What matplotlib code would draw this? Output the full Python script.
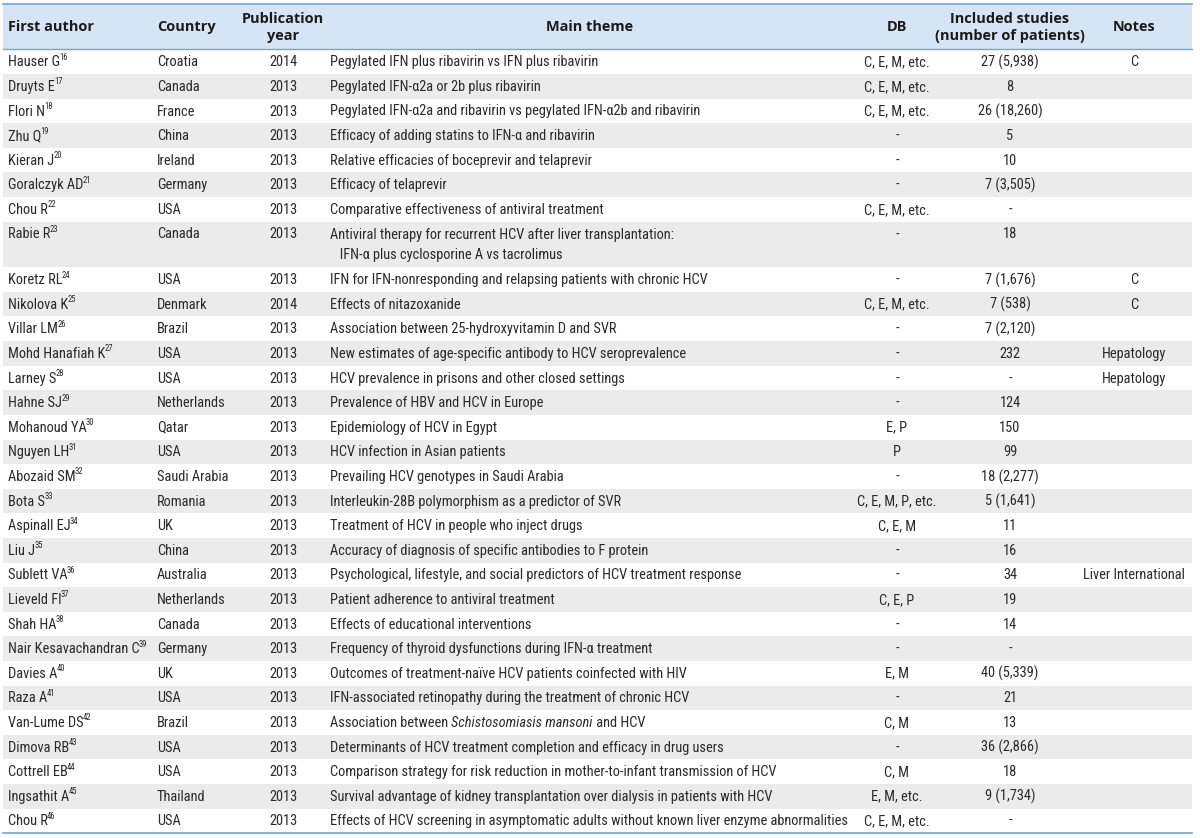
import matplotlib
matplotlib.use("Agg")
import matplotlib.pyplot as plt
from matplotlib import font_manager as fm

authors = ["Hauser G", "Druyts E", "Flori N", "Zhu Q", "Kieran J", "Goralczyk AD", "Chou R",
           "Rabie R", "Koretz RL", "Nikolova K", "Villar LM", "Mohd Hanafiah K", "Larney S",
           "Hahne SJ", "Mohanoud YA", "Nguyen LH", "Abozaid SM", "Bota S", "Aspinall EJ",
           "Liu J", "Sublett VA", "Lieveld FI", "Shah HA", "Nair Kesavachandran C",
           "Davies A", "Raza A", "Van-Lume DS", "Dimova RB", "Cottrell EB", "Ingsathit A", "Chou R"]
refs = [str(r) for r in range(16, 47)]
countries = ["Croatia", "Canada", "France", "China", "Ireland", "Germany", "USA", "Canada", "USA",
             "Denmark", "Brazil", "USA", "USA", "Netherlands", "Qatar", "USA", "Saudi Arabia",
             "Romania", "UK", "China", "Australia", "Netherlands", "Canada", "Germany", "UK",
             "USA", "Brazil", "USA", "USA", "Thailand", "USA"]
years = ["2014", "2013", "2013", "2013", "2013", "2013", "2013", "2013", "2013", "2014", "2013",
         "2013", "2013", "2013", "2013", "2013", "2013", "2013", "2013", "2013", "2013", "2013",
         "2013", "2013", "2013", "2013", "2013", "2013", "2013", "2013", "2013"]
themes = [
    "Pegylated IFN plus ribavirin vs IFN plus ribavirin",
    "Pegylated IFN-α2a or 2b plus ribavirin",
    "Pegylated IFN-α2a and ribavirin vs pegylated IFN-α2b and ribavirin",
    "Efficacy of adding statins to IFN-α and ribavirin",
    "Relative efficacies of boceprevir and telaprevir",
    "Efficacy of telaprevir",
    "Comparative effectiveness of antiviral treatment",
    "Antiviral therapy for recurrent HCV after liver transplantation:\n   IFN-α plus cyclosporine A vs tacrolimus",
    "IFN for IFN-nonresponding and relapsing patients with chronic HCV",
    "Effects of nitazoxanide",
    "Association between 25-hydroxyvitamin D and SVR",
    "New estimates of age-specific antibody to HCV seroprevalence",
    "HCV prevalence in prisons and other closed settings",
    "Prevalence of HBV and HCV in Europe",
    "Epidemiology of HCV in Egypt",
    "HCV infection in Asian patients",
    "Prevailing HCV genotypes in Saudi Arabia",
    "Interleukin-28B polymorphism as a predictor of SVR",
    "Treatment of HCV in people who inject drugs",
    "Accuracy of diagnosis of specific antibodies to F protein",
    "Psychological, lifestyle, and social predictors of HCV treatment response",
    "Patient adherence to antiviral treatment",
    "Effects of educational interventions",
    "Frequency of thyroid dysfunctions during IFN-α treatment",
    "Outcomes of treatment-naïve HCV patients coinfected with HIV",
    "IFN-associated retinopathy during the treatment of chronic HCV",
    "Association between *Schistosomiasis mansoni* and HCV",
    "Determinants of HCV treatment completion and efficacy in drug users",
    "Comparison strategy for risk reduction in mother-to-infant transmission of HCV",
    "Survival advantage of kidney transplantation over dialysis in patients with HCV",
    "Effects of HCV screening in asymptomatic adults without known liver enzyme abnormalities",
]
dbs = ["C, E, M, etc.", "C, E, M, etc.", "C, E, M, etc.", "-", "-", "-", "C, E, M, etc.", "-", "-",
       "C, E, M, etc.", "-", "-", "-", "-", "E, P", "P", "-", "C, E, M, P, etc.", "C, E, M", "-",
       "-", "C, E, P", "-", "-", "E, M", "-", "C, M", "-", "C, M", "E, M, etc.", "C, E, M, etc."]
included = ["27 (5,938)", "8", "26 (18,260)", "5", "10", "7 (3,505)", "-", "18", "7 (1,676)",
            "7 (538)", "7 (2,120)", "232", "-", "124", "150", "99", "18 (2,277)", "5 (1,641)",
            "11", "16", "34", "19", "14", "-", "40 (5,339)", "21", "13", "36 (2,866)", "18",
            "9 (1,734)", "-"]
notes = ["C", "", "", "", "", "", "", "", "C", "C", "", "Hepatology", "Hepatology", "", "", "",
         "", "", "", "", "Liver International", "", "", "", "", "", "", "", "", "", ""]
headers = ["First author", "Country", "Publication\nyear", "Main theme", "DB",
           "Included studies\n(number of patients)", "Notes"]

# ---- font choice: prefer a condensed sans face for the body ----
entries = fm.fontManager.ttflist
avail = {f.name for f in entries}
FAMILY, STRETCH = None, "normal"
for cand in ["Roboto Condensed", "Liberation Sans Narrow", "Open Sans Condensed",
             "Noto Sans Condensed", "DejaVu Sans Condensed"]:
    if cand in avail:
        FAMILY = cand
        break
if FAMILY is None:
    for fam in ["Noto Sans", "Roboto", "Open Sans", "DejaVu Sans"]:
        hits = [f for f in entries if f.name == fam and str(f.stretch) in
                ("condensed", "semi-condensed", "extra-condensed")]
        if hits:
            FAMILY, STRETCH = fam, str(hits[0].stretch)
            break
if FAMILY is None:
    FAMILY = "Liberation Sans" if "Liberation Sans" in avail else "DejaVu Sans"
FAM = [FAMILY, "DejaVu Sans"]
HFAMILY = next((c for c in ["Open Sans", "Noto Sans", "Lato", "DejaVu Sans"] if c in avail), "DejaVu Sans")
HFAM = [HFAMILY, "DejaVu Sans"]

W, H = 1200, 838
fig = plt.figure(figsize=(W / 100, H / 100), dpi=100)
ax = fig.add_axes([0, 0, 1, 1])
ax.set_xlim(0, W)
ax.set_ylim(H, 0)
ax.axis("off")
fig.canvas.draw()
renderer = fig.canvas.get_renderer()


def width_of(t):
    return t.get_window_extent(renderer=renderer).width


# fit body size so the longest theme spans like the reference (~513 px)
probe = ax.text(0, 0, themes[-1], fontsize=10, family=FAM, stretch=STRETCH)
FS = min(11.2, 10 * 515 / width_of(probe))
probe.remove()
# fit header size so "(number of patients)" spans ~152 px
probe = ax.text(0, 0, "(number of patients)", fontsize=10, family=HFAM, weight="bold")
HFS = min(11.5, 10 * 150 / width_of(probe))
probe.remove()
SUP = FS * 0.6

TXT = "#2a2a2a"
BLUE_FILL = "#d5e5f5"
LINE = "#7aa3cf"
GREY = "#ebebeb"

x0, x1 = 3, 1192
top, hdr_bot = 4, 49.5
rh = 24.6
extra = 21


def T(x, y, s, **kw):
    kw.setdefault("ha", "left")
    return ax.text(x, y, s, fontsize=kw.pop("fs", FS), family=kw.pop("family", FAM),
                   stretch=kw.pop("stretch", STRETCH),
                   color=kw.pop("color", TXT), va="center", **kw)


def draw_rich(x, y, s, sup=None):
    parts = s.split("*")
    cx = x
    for i, p in enumerate(parts):
        if not p:
            continue
        t = T(cx, y, p, style="italic" if i % 2 == 1 else "normal")
        cx += width_of(t)
    if sup:
        T(cx - 0.8, y - 5.0, sup, fs=SUP)


# header
ax.add_patch(plt.Rectangle((x0, top), x1 - x0, hdr_bot - top, color=BLUE_FILL, lw=0))
ax.plot([x0, x1], [top, top], color=LINE, lw=1.2)
ax.plot([x0, x1], [hdr_bot, hdr_bot], color=LINE, lw=1.0)
hy = (top + hdr_bot) / 2 + 0.5
hdr_pos = [(8, "left"), (157, "left"), (283, "center"), (590, "center"), (897, "center"),
           (1010, "center"), (1134, "center")]
for (hx, ha), h in zip(hdr_pos, headers):
    T(hx, hy, h, ha=ha, fs=HFS, family=HFAM, stretch="normal", weight="bold",
      color="#1a1a1a", linespacing=1.25, multialignment="center")

# rows
y = hdr_bot
for i in range(len(authors)):
    multi = "\n" in themes[i]
    h = rh + (extra if multi else 0)
    if i % 2 == 1:
        ax.add_patch(plt.Rectangle((x0, y), x1 - x0, h, color=GREY, lw=0))
    cy = y + rh / 2 + 0.5
    draw_rich(8, cy, authors[i], refs[i])
    T(157, cy, countries[i])
    T(283, cy, years[i], ha="center")
    for k, line in enumerate(themes[i].split("\n")):
        draw_rich(330, cy + k * 20, line)
    T(897, cy, dbs[i], ha="center")
    T(1010, cy, included[i], ha="center")
    if notes[i]:
        T(1134, cy, notes[i], ha="center")
    y += h

ax.plot([x0, x1], [y, y], color=LINE, lw=1.2)

fig.savefig("out.png", dpi=100)
